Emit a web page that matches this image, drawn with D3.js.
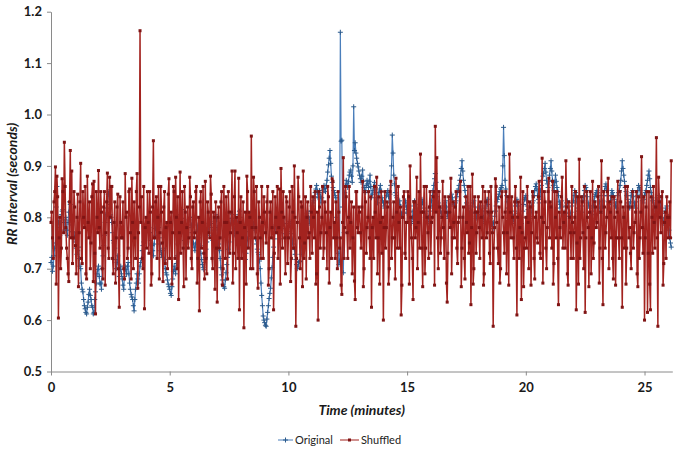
<!DOCTYPE html>
<html>
<head>
<meta charset="utf-8">
<script src="https://cdn.jsdelivr.net/npm/d3@7"></script>
<style>
  html, body { margin: 0; padding: 0; background: #fff; }
  svg { display: block; }
</style>
</head>
<body>
<svg id="chart" width="679" height="452"></svg>
<script>
// ---- data: RR intervals in milliseconds ----
// "A" arrays are sampled every 1/16 minute starting at 0; "B" arrays sit half-way between.
const minutesPerSample = 1 / 16;
const xTicks = [0, 5, 10, 15, 20, 25];
const yTicks = [0.5, 0.6, 0.7, 0.8, 0.9, 1.0, 1.1, 1.2];
const seriesNames = ["Original", "Shuffled"];

const originalMsA = [
  712, 695, 725, 750, 860, 790, 765, 805, 815, 775, 800, 765, 810, 825, 785, 770,
  765, 740, 735, 720, 700, 660, 640, 622, 612, 635, 660, 640, 625, 615, 655, 690,
  705, 670, 660, 725, 765, 805, 830, 850, 805, 790, 755, 740, 700, 725, 685, 705,
  680, 660, 705, 690, 712, 672, 650, 640, 618, 660, 690, 672, 705, 720, 745, 760,
  775, 795, 780, 755, 745, 725, 765, 785, 805, 760, 735, 722, 740, 700, 688, 670,
  660, 648, 680, 705, 690, 725, 765, 790, 815, 780, 755, 740, 760, 795, 800, 770,
  750, 735, 760, 785, 760, 730, 708, 698, 722, 752, 775, 795, 780, 755, 775, 805,
  780, 748, 720, 688, 670, 662, 692, 722, 752, 785, 805, 790, 768, 762, 792, 812,
  790, 768, 748, 718, 742, 772, 792, 805, 778, 792, 758, 738, 728, 700, 648, 608,
  595, 588, 615, 642, 662, 702, 742, 772, 792, 778, 758, 782, 802, 788, 768, 762,
  782, 792, 768, 748, 738, 718, 700, 712, 715, 742, 772, 792, 802, 812, 788, 802,
  822, 832, 848, 862, 838, 852, 828, 848, 862, 850, 872, 902, 930, 880, 858, 848,
  838, 760, 708, 1160, 950, 692, 848, 872, 858, 882, 892, 868, 1015, 945, 915, 898,
  882, 868, 892, 858, 848, 872, 858, 882, 838, 852, 868, 848, 828, 848, 862, 838,
  828, 818, 842, 852, 828, 862, 960, 882, 848, 838, 818, 832, 808, 798, 822, 832,
  808, 822, 798, 788, 812, 832, 818, 798, 788, 812, 835, 818, 808, 798, 788, 812,
  822, 842, 862, 885, 852, 828, 818, 808, 798, 822, 832, 808, 798, 822, 845, 828,
  822, 832, 848, 862, 882, 910, 872, 852, 828, 818, 808, 798, 822, 832, 808, 798,
  812, 822, 798, 788, 812, 822, 835, 812, 798, 788, 778, 802, 822, 835, 845, 855,
  862, 975, 872, 842, 818, 808, 798, 788, 802, 822, 835, 808, 798, 788, 812, 835,
  842, 822, 808, 798, 822, 832, 852, 865, 842, 828, 852, 872, 885, 905, 872, 858,
  882, 910, 872, 852, 882, 858, 842, 818, 832, 808, 798, 822, 832, 808, 798, 822,
  832, 852, 842, 818, 808, 798, 822, 842, 862, 852, 828, 818, 798, 812, 832, 845,
  852, 842, 818, 808, 832, 852, 865, 842, 818, 832, 852, 842, 828, 818, 842, 852,
  872, 910, 882, 858, 842, 828, 818, 842, 852, 828, 818, 842, 862, 852, 838, 828,
  842, 852, 872, 890, 858, 838, 828, 818, 808, 832, 842, 818, 798, 788, 812, 822,
  790, 760, 742
];

const originalMsB = [
  722, 705, 740, 820, 800, 780, 790, 812, 790, 795, 775, 790, 830, 795, 772, 760,
  752, 728, 742, 705, 672, 655, 628, 615, 625, 650, 648, 628, 612, 640, 672, 698,
  685, 672, 700, 745, 790, 818, 845, 825, 800, 770, 750, 718, 712, 700, 698, 690,
  668, 685, 698, 705, 690, 660, 645, 628, 640, 672, 680, 690, 712, 735, 752, 770,
  788, 785, 770, 748, 735, 748, 778, 798, 780, 748, 728, 735, 718, 692, 678, 665,
  652, 665, 695, 698, 710, 748, 778, 805, 798, 768, 748, 752, 780, 800, 785, 762,
  742, 748, 775, 772, 745, 718, 702, 712, 738, 765, 788, 788, 765, 768, 792, 795,
  762, 735, 702, 678, 665, 678, 708, 738, 770, 798, 798, 778, 765, 778, 805, 800,
  778, 758, 732, 730, 758, 785, 800, 790, 786, 775, 748, 732, 715, 672, 628, 600,
  590, 602, 628, 652, 682, 722, 758, 785, 785, 768, 770, 795, 795, 778, 765, 772,
  788, 780, 758, 742, 728, 708, 705, 714, 728, 758, 782, 798, 808, 800, 795, 812,
  828, 840, 855, 850, 845, 840, 838, 855, 856, 862, 888, 915, 905, 868, 852, 842,
  800, 730, 715, 948, 820, 770, 860, 865, 870, 888, 880, 900, 930, 925, 905, 890,
  875, 880, 870, 852, 862, 865, 870, 860, 845, 860, 858, 838, 838, 855, 850, 832,
  822, 830, 848, 840, 845, 900, 925, 865, 842, 828, 825, 820, 802, 810, 828, 820,
  815, 810, 792, 800, 822, 825, 808, 792, 800, 825, 828, 812, 802, 792, 800, 818,
  832, 852, 875, 868, 840, 822, 812, 802, 810, 828, 820, 802, 810, 835, 838, 825,
  828, 840, 855, 872, 895, 890, 862, 840, 822, 812, 802, 810, 828, 820, 802, 805,
  818, 810, 792, 800, 818, 830, 825, 805, 792, 782, 790, 812, 830, 840, 850, 858,
  900, 920, 855, 830, 812, 802, 792, 795, 812, 830, 822, 802, 792, 800, 825, 838,
  832, 815, 802, 810, 828, 842, 860, 855, 835, 840, 862, 880, 895, 888, 865, 870,
  895, 890, 862, 868, 870, 850, 830, 825, 820, 802, 810, 828, 820, 802, 810, 828,
  842, 848, 830, 812, 802, 810, 832, 852, 858, 840, 822, 808, 805, 822, 840, 848,
  848, 830, 812, 820, 842, 860, 855, 830, 825, 842, 848, 835, 822, 830, 848, 862,
  890, 895, 870, 850, 835, 822, 830, 848, 840, 822, 830, 852, 858, 845, 832, 835,
  848, 862, 882, 875, 848, 832, 822, 812, 820, 838, 830, 808, 792, 800, 818, 805,
  775, 750
];

const shuffledMsA = [
  790, 760, 830, 898, 880, 604, 800, 740, 850, 946, 780, 720, 675, 930, 890, 760,
  820, 690, 845, 770, 905, 710, 800, 860, 680, 790, 830, 750, 865, 870, 612, 800,
  891, 740, 810, 680, 850, 770, 886, 720, 800, 860, 690, 830, 760, 845, 625, 790,
  760, 700, 885, 810, 740, 855, 680, 790, 830, 720, 885, 770, 1163, 840, 700, 622,
  800, 850, 730, 810, 690, 949, 760, 840, 800, 680, 860, 750, 820, 710, 790, 845,
  720, 810, 770, 850, 878, 700, 640, 888, 790, 740, 860, 680, 820, 760, 840, 700,
  830, 770, 860, 720, 618, 850, 790, 730, 870, 690, 810, 760, 845, 700, 800, 830,
  635, 820, 760, 850, 700, 790, 840, 680, 810, 770, 890, 730, 890, 800, 720, 620,
  840, 760, 585, 810, 880, 740, 800, 958, 700, 850, 780, 690, 830, 760, 860, 720,
  810, 750, 860, 700, 830, 780, 620, 840, 770, 720, 855, 895, 740, 800, 690, 830,
  760, 850, 720, 810, 900, 588, 790, 840, 700, 820, 890, 750, 680, 830, 770, 860,
  730, 800, 850, 690, 600, 820, 770, 860, 740, 810, 700, 840, 780, 720, 870, 790,
  830, 700, 810, 760, 650, 916, 780, 840, 720, 860, 790, 690, 820, 640, 850, 770,
  810, 740, 870, 700, 830, 780, 850, 720, 625, 800, 860, 760, 690, 840, 790, 730,
  600, 850, 780, 820, 700, 870, 760, 830, 680, 810, 860, 740, 610, 800, 850, 720,
  790, 840, 900, 760, 640, 830, 780, 700, 850, 923, 740, 810, 690, 860, 770, 820,
  730, 800, 850, 977, 916, 700, 820, 760, 870, 720, 810, 635, 840, 780, 690, 830,
  760, 850, 710, 800, 870, 740, 820, 680, 790, 860, 750, 630, 884, 700, 810, 770,
  840, 720, 800, 860, 690, 830, 770, 850, 710, 810, 588, 780, 860, 740, 820, 700,
  850, 770, 810, 690, 840, 923, 760, 800, 720, 860, 610, 830, 780, 640, 850, 740,
  800, 860, 700, 820, 770, 840, 680, 810, 750, 870, 720, 915, 790, 830, 700, 850,
  760, 820, 870, 710, 800, 850, 630, 780, 840, 740, 810, 910, 690, 830, 770, 860,
  720, 800, 620, 840, 913, 760, 830, 700, 615, 850, 780, 810, 690, 870, 750, 820,
  790, 860, 740, 910, 630, 820, 770, 850, 700, 810, 840, 680, 800, 760, 870, 720,
  830, 625, 800, 860, 740, 820, 780, 700, 850, 770, 810, 690, 840, 760, 918, 730,
  600, 820, 615, 850, 620, 800, 860, 740, 955, 588, 830, 770, 850, 710, 810, 840,
  760, 830, 910
];

const shuffledMsB = [
  810, 720, 850, 670, 840, 760, 700, 875, 770, 860, 740, 690, 830, 760, 710, 850,
  745, 800, 665, 830, 720, 850, 780, 690, 880, 760, 700, 840, 675, 730, 850, 770,
  780, 850, 700, 820, 668, 830, 740, 878, 860, 720, 790, 672, 820, 700, 840, 760,
  830, 680, 800, 720, 850, 770, 876, 700, 760, 850, 662, 820, 790, 720, 860, 780,
  740, 790, 850, 668, 820, 760, 830, 720, 860, 770, 810, 675, 850, 780, 700, 875,
  790, 670, 860, 720, 800, 840, 770, 730, 850, 665, 810, 780, 740, 878, 720, 820,
  760, 850, 672, 800, 830, 740, 860, 680, 720, 830, 770, 880, 720, 810, 660, 740,
  800, 740, 830, 668, 860, 720, 790, 850, 730, 810, 672, 840, 700, 770, 876, 790,
  720, 830, 780, 670, 850, 810, 700, 780, 878, 760, 860, 662, 800, 720, 790, 840,
  770, 830, 668, 810, 760, 850, 730, 800, 860, 780, 670, 810, 850, 760, 840, 710,
  820, 675, 860, 740, 800, 720, 878, 760, 830, 665, 720, 840, 800, 760, 720, 810,
  840, 760, 670, 810, 850, 740, 800, 720, 830, 770, 860, 672, 810, 875, 760, 720,
  760, 850, 740, 668, 790, 720, 860, 770, 800, 740, 830, 760, 676, 850, 780, 820,
  770, 820, 665, 850, 730, 800, 760, 840, 780, 720, 810, 878, 760, 670, 850, 800,
  780, 740, 830, 670, 850, 720, 800, 760, 876, 740, 790, 820, 668, 840, 730, 790,
  850, 670, 800, 720, 830, 760, 878, 790, 740, 810, 665, 860, 740, 800, 720, 850,
  790, 840, 668, 810, 760, 850, 730, 800, 780, 840, 672, 730, 810, 876, 760, 790,
  820, 740, 790, 850, 665, 800, 720, 840, 770, 730, 860, 780, 670, 840, 730, 810,
  780, 830, 760, 668, 850, 760, 810, 730, 860, 770, 740, 875, 790, 710, 672, 840,
  800, 730, 850, 770, 668, 810, 840, 760, 830, 740, 800, 720, 878, 770, 665, 760,
  740, 790, 830, 668, 850, 720, 800, 760, 840, 730, 800, 672, 850, 740, 780, 876,
  830, 740, 670, 850, 760, 720, 810, 760, 878, 790, 740, 820, 668, 800, 720, 790,
  770, 850, 750, 670, 720, 840, 770, 860, 760, 800, 665, 850, 760, 720, 830, 780,
  840, 672, 810, 720, 850, 740, 800, 876, 830, 760, 720, 840, 668, 810, 760, 850,
  760, 820, 740, 670, 860, 760, 730, 820, 740, 790, 850, 665, 720, 810, 780, 840,
  760, 850, 730, 670, 840, 730, 790, 820, 760, 878, 800, 840, 668, 790, 720, 800,
  800, 760
];

// ---- chart ----
const svg = d3.select("#chart");
const plot = { left: 51, right: 672.3, top: 11.7, bottom: 371.5 };

const x = d3.scaleLinear().domain([0, 26.17]).range([plot.left, plot.right]);
const y = d3.scaleLinear().domain([0.5, 1.2]).range([plot.bottom, plot.top]);

function interleave(a, b) {
  const out = [];
  a.forEach((ms, i) => {
    out.push({ t: i * minutesPerSample, v: ms / 1000 });
    if (i < b.length) out.push({ t: (i + 0.5) * minutesPerSample, v: b[i] / 1000 });
  });
  return out;
}
const original = interleave(originalMsA, originalMsB);
const shuffled = interleave(shuffledMsA, shuffledMsB);

const fontFamily = "Lato, 'Open Sans', 'DejaVu Sans', sans-serif";
const axisColor = "#8a8a8a";

// axes
const yAxis = d3.axisLeft(y).tickValues(yTicks).tickFormat(d3.format(".1f"))
  .tickSizeInner(4).tickSizeOuter(0).tickPadding(5);
const xAxis = d3.axisBottom(x).tickValues(xTicks).tickFormat(d3.format("d"))
  .tickSizeInner(4).tickSizeOuter(0).tickPadding(7);

const gy = svg.append("g").attr("transform", `translate(${plot.left},0)`).call(yAxis);
const gx = svg.append("g").attr("transform", `translate(0,${plot.bottom})`).call(xAxis);
[gx, gy].forEach(g => {
  g.select(".domain").attr("stroke", axisColor).attr("stroke-width", 1);
  g.selectAll(".tick line").attr("stroke", axisColor);
  g.selectAll(".tick text")
    .attr("fill", "#1a1a1a")
    .style("font-family", fontFamily)
    .style("font-weight", "700")
    .style("font-size", "13px");
});

// series
const line = d3.line().x(d => x(d.t)).y(d => y(d.v));
const blue = "#4a7ebb", blueMark = "#2b5a8c";
const red = "#a3231f", redMark = "#7f1414";

const gOrig = svg.append("g");
gOrig.append("path").datum(original)
  .attr("d", line).attr("fill", "none")
  .attr("stroke", blue).attr("stroke-width", 1.2);
gOrig.selectAll("path.mk").data(original).join("path")
  .attr("class", "mk")
  .attr("d", d => `M${x(d.t) - 2.5},${y(d.v)}h5M${x(d.t)},${y(d.v) - 2.5}v5`)
  .attr("stroke", blueMark).attr("stroke-width", 1).attr("fill", "none");

const gShuf = svg.append("g");
gShuf.append("path").datum(shuffled)
  .attr("d", line).attr("fill", "none")
  .attr("stroke", red).attr("stroke-width", 1.5).attr("stroke-linejoin", "round");
gShuf.selectAll("rect").data(shuffled).join("rect")
  .attr("x", d => x(d.t) - 1.5).attr("y", d => y(d.v) - 1.5)
  .attr("width", 3).attr("height", 3)
  .attr("fill", redMark);

// axis titles
svg.append("text")
  .attr("x", (plot.left + plot.right) / 2).attr("y", 415)
  .attr("text-anchor", "middle")
  .style("font-family", fontFamily).style("font-weight", "700").style("font-style", "italic")
  .style("font-size", "14px").attr("fill", "#1a1a1a")
  .text("Time (minutes)");

svg.append("text")
  .attr("transform", `translate(17,184) rotate(-90)`)
  .attr("text-anchor", "middle")
  .style("font-family", fontFamily).style("font-weight", "700").style("font-style", "italic")
  .style("font-size", "14px").attr("fill", "#1a1a1a")
  .text("RR Interval (seconds)");

// legend
const legend = svg.append("g").attr("transform", "translate(278,440)");
const lg1 = legend.append("g");
lg1.append("line").attr("x1", 0).attr("x2", 15).attr("y1", 0).attr("y2", 0)
  .attr("stroke", blue).attr("stroke-width", 1);
lg1.append("path").attr("d", "M5,0h5M7.5,-2.5v5").attr("stroke", blueMark);
lg1.append("text").attr("x", 17).attr("y", 4)
  .style("font-family", fontFamily).style("font-size", "11px").attr("fill", "#222")
  .text(seriesNames[0]);
const lg2 = legend.append("g").attr("transform", "translate(62,0)");
lg2.append("line").attr("x1", 0).attr("x2", 19).attr("y1", 0).attr("y2", 0)
  .attr("stroke", red).attr("stroke-width", 1);
lg2.append("rect").attr("x", 8).attr("y", -1.5).attr("width", 3).attr("height", 3).attr("fill", redMark);
lg2.append("text").attr("x", 21).attr("y", 4)
  .style("font-family", fontFamily).style("font-size", "11px").attr("fill", "#222")
  .text(seriesNames[1]);
</script>
</body>
</html>
